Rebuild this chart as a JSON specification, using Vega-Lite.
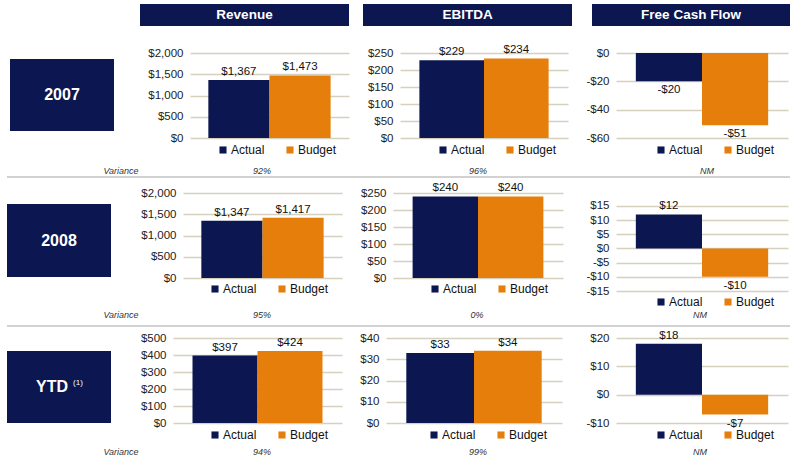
{
  "$schema": "https://vega.github.io/schema/vega-lite/v6.json",
  "padding": {"left": 7, "top": 4, "right": 0, "bottom": 0},
  "datasets": {
    "fin": [
      {"period": "2007", "metric": "Revenue", "series": "Actual", "value": 1367, "label": "$1,367"},
      {"period": "2007", "metric": "Revenue", "series": "Budget", "value": 1473, "label": "$1,473"},
      {"period": "2007", "metric": "EBITDA", "series": "Actual", "value": 229, "label": "$229"},
      {"period": "2007", "metric": "EBITDA", "series": "Budget", "value": 234, "label": "$234"},
      {"period": "2007", "metric": "FCF", "series": "Actual", "value": -20, "label": "-$20"},
      {"period": "2007", "metric": "FCF", "series": "Budget", "value": -51, "label": "-$51"},
      {"period": "2008", "metric": "Revenue", "series": "Actual", "value": 1347, "label": "$1,347"},
      {"period": "2008", "metric": "Revenue", "series": "Budget", "value": 1417, "label": "$1,417"},
      {"period": "2008", "metric": "EBITDA", "series": "Actual", "value": 240, "label": "$240"},
      {"period": "2008", "metric": "EBITDA", "series": "Budget", "value": 240, "label": "$240"},
      {"period": "2008", "metric": "FCF", "series": "Actual", "value": 12, "label": "$12"},
      {"period": "2008", "metric": "FCF", "series": "Budget", "value": -10, "label": "-$10"},
      {"period": "YTD", "metric": "Revenue", "series": "Actual", "value": 397, "label": "$397"},
      {"period": "YTD", "metric": "Revenue", "series": "Budget", "value": 424, "label": "$424"},
      {"period": "YTD", "metric": "EBITDA", "series": "Actual", "value": 33, "label": "$33"},
      {"period": "YTD", "metric": "EBITDA", "series": "Budget", "value": 34, "label": "$34"},
      {"period": "YTD", "metric": "FCF", "series": "Actual", "value": 18, "label": "$18"},
      {"period": "YTD", "metric": "FCF", "series": "Budget", "value": -7, "label": "-$7"}
    ]
  },
  "spacing": 0,
  "resolve": {
    "scale": {"x": "independent", "y": "independent", "color": "independent"},
    "axis": {"x": "independent", "y": "independent"},
    "legend": {"color": "independent"}
  },
  "vconcat": [
    {
      "spacing": 0,
      "hconcat": [
        {"width": 133, "height": 1, "data": {"values": []}, "mark": "point"},
        {"width": 209, "height": 22, "view": {"fill": "#0c1650"}, "data": {"values": [{"t": "Revenue"}]}, "mark": {"type": "text", "color": "white", "fontWeight": "bold", "fontSize": 13.5}, "encoding": {"text": {"field": "t"}}},
        {"width": 14, "height": 1, "data": {"values": []}, "mark": "point"},
        {"width": 209, "height": 22, "view": {"fill": "#0c1650"}, "data": {"values": [{"t": "EBITDA"}]}, "mark": {"type": "text", "color": "white", "fontWeight": "bold", "fontSize": 13.5}, "encoding": {"text": {"field": "t"}}},
        {"width": 20, "height": 1, "data": {"values": []}, "mark": "point"},
        {"width": 198, "height": 22, "view": {"fill": "#0c1650"}, "data": {"values": [{"t": "Free Cash Flow"}]}, "mark": {"type": "text", "color": "white", "fontWeight": "bold", "fontSize": 13.5}, "encoding": {"text": {"field": "t"}}}
      ]
    },
    {"width": 1, "height": 17.4, "data": {"values": []}, "mark": "point"},
    {
      "spacing": 0,
      "resolve": {"scale": {"x": "independent", "y": "independent", "color": "independent"}, "axis": {"x": "independent", "y": "independent"}, "legend": {"color": "independent"}},
      "hconcat": [
        {"width": 3, "height": 1, "data": {"values": []}, "mark": "point"},
        {
          "spacing": 0,
          "vconcat": [
            {"width": 104, "height": 6, "data": {"values": []}, "mark": "point"},
            {"width": 104, "height": 72, "view": {"fill": "#0c1650"}, "data": {"values": [{"t": "2007"}]}, "mark": {"type": "text", "color": "white", "fontWeight": "bold", "fontSize": 16}, "encoding": {"text": {"field": "t"}}},
            {"width": 1, "height": 34, "data": {"values": []}, "mark": "point"}
          ]
        },
        {"width": 30, "height": 1, "data": {"values": []}, "mark": "point"},
        {
          "width": 159, "height": 85,
          "data": {"name": "fin"},
          "transform": [{"filter": "datum.period == '2007' && datum.metric == 'Revenue'"}],
          "encoding": {
            "x": {"field": "series", "type": "nominal", "sort": ["Actual", "Budget"], "axis": null, "scale": {"paddingInner": 0, "paddingOuter": 0.3}},
            "y": {"field": "value", "type": "quantitative", "scale": {"domain": [0, 2000], "nice": false, "zero": false}, "axis": {"title": null, "minExtent": 46, "values": [0, 500, 1000, 1500, 2000], "labelOverlap": false, "labelExpr": "(datum.value < 0 ? '-$' : '$') + format(abs(datum.value), ',')"}}
          },
          "layer": [
            {"mark": {"type": "bar"}, "encoding": {"y2": {"datum": 0}, "color": {"field": "series", "type": "nominal", "scale": {"domain": ["Actual", "Budget"], "range": ["#0c1650", "#e67e0b"]}, "legend": {"title": null, "orient": "none", "direction": "horizontal", "legendX": 27, "legendY": 91}}}},
            {"transform": [{"filter": "datum.value >= 0"}], "mark": {"type": "text", "baseline": "alphabetic", "dy": -5}, "encoding": {"text": {"field": "label"}}},
            {"transform": [{"filter": "datum.value < 0"}], "mark": {"type": "text", "baseline": "top", "dy": 3}, "encoding": {"text": {"field": "label"}}}
          ]
        },
        {"width": 14.25, "height": 1, "data": {"values": []}, "mark": "point"},
        {
          "width": 168, "height": 85,
          "data": {"name": "fin"},
          "transform": [{"filter": "datum.period == '2007' && datum.metric == 'EBITDA'"}],
          "encoding": {
            "x": {"field": "series", "type": "nominal", "sort": ["Actual", "Budget"], "axis": null, "scale": {"paddingInner": 0, "paddingOuter": 0.3}},
            "y": {"field": "value", "type": "quantitative", "scale": {"domain": [0, 250], "nice": false, "zero": false}, "axis": {"title": null, "minExtent": 36, "values": [0, 50, 100, 150, 200, 250], "labelOverlap": false, "labelExpr": "(datum.value < 0 ? '-$' : '$') + format(abs(datum.value), ',')"}}
          },
          "layer": [
            {"mark": {"type": "bar"}, "encoding": {"y2": {"datum": 0}, "color": {"field": "series", "type": "nominal", "scale": {"domain": ["Actual", "Budget"], "range": ["#0c1650", "#e67e0b"]}, "legend": {"title": null, "orient": "none", "direction": "horizontal", "legendX": 37, "legendY": 91}}}},
            {"transform": [{"filter": "datum.value >= 0"}], "mark": {"type": "text", "baseline": "alphabetic", "dy": -5}, "encoding": {"text": {"field": "label"}}},
            {"transform": [{"filter": "datum.value < 0"}], "mark": {"type": "text", "baseline": "top", "dy": 3}, "encoding": {"text": {"field": "label"}}}
          ]
        },
        {"width": 13.25, "height": 1, "data": {"values": []}, "mark": "point"},
        {
          "width": 172, "height": 85,
          "data": {"name": "fin"},
          "transform": [{"filter": "datum.period == '2007' && datum.metric == 'FCF'"}],
          "encoding": {
            "x": {"field": "series", "type": "nominal", "sort": ["Actual", "Budget"], "axis": null, "scale": {"paddingInner": 0, "paddingOuter": 0.3}},
            "y": {"field": "value", "type": "quantitative", "scale": {"domain": [-60, 0], "nice": false, "zero": false}, "axis": {"title": null, "minExtent": 34, "values": [-60, -40, -20, 0], "labelOverlap": false, "labelExpr": "(datum.value < 0 ? '-$' : '$') + format(abs(datum.value), ',')"}}
          },
          "layer": [
            {"mark": {"type": "bar"}, "encoding": {"y2": {"datum": 0}, "color": {"field": "series", "type": "nominal", "scale": {"domain": ["Actual", "Budget"], "range": ["#0c1650", "#e67e0b"]}, "legend": {"title": null, "orient": "none", "direction": "horizontal", "legendX": 39, "legendY": 91}}}},
            {"transform": [{"filter": "datum.value >= 0"}], "mark": {"type": "text", "baseline": "alphabetic", "dy": -5}, "encoding": {"text": {"field": "label"}}},
            {"transform": [{"filter": "datum.value < 0"}], "mark": {"type": "text", "baseline": "top", "dy": 3}, "encoding": {"text": {"field": "label"}}}
          ]
        }
      ]
    },
    {
      "spacing": 0,
      "hconcat": [
        {"width": 228, "height": 11, "data": {"values": [{"t": "Variance"}]}, "mark": {"type": "text", "fontStyle": "italic", "fontSize": 9, "color": "#333"}, "encoding": {"text": {"field": "t"}}},
        {"width": 54, "height": 11, "data": {"values": [{"t": "92%"}]}, "mark": {"type": "text", "fontStyle": "italic", "fontSize": 9, "color": "#333"}, "encoding": {"text": {"field": "t"}}},
        {"width": 378, "height": 11, "data": {"values": [{"t": "96%"}]}, "mark": {"type": "text", "fontStyle": "italic", "fontSize": 9, "color": "#333"}, "encoding": {"text": {"field": "t"}}},
        {"width": 80, "height": 11, "data": {"values": [{"t": "NM"}]}, "mark": {"type": "text", "fontStyle": "italic", "fontSize": 9, "color": "#333"}, "encoding": {"text": {"field": "t"}}}
      ]
    },
    {"width": 783, "height": 2, "view": {"fill": "#d2d2d2"}, "data": {"values": []}, "mark": "point"},
    {"width": 1, "height": 3.4, "data": {"values": []}, "mark": "point"},
    {
      "spacing": 0,
      "resolve": {"scale": {"x": "independent", "y": "independent", "color": "independent"}, "axis": {"x": "independent", "y": "independent"}, "legend": {"color": "independent"}},
      "hconcat": [
        {
          "spacing": 0,
          "vconcat": [
            {"width": 104, "height": 11, "data": {"values": []}, "mark": "point"},
            {"width": 104, "height": 73, "view": {"fill": "#0c1650"}, "data": {"values": [{"t": "2008"}]}, "mark": {"type": "text", "color": "white", "fontWeight": "bold", "fontSize": 16}, "encoding": {"text": {"field": "t"}}},
            {"width": 1, "height": 34, "data": {"values": []}, "mark": "point"}
          ]
        },
        {"width": 26, "height": 1, "data": {"values": []}, "mark": "point"},
        {
          "width": 159, "height": 85,
          "data": {"name": "fin"},
          "transform": [{"filter": "datum.period == '2008' && datum.metric == 'Revenue'"}],
          "encoding": {
            "x": {"field": "series", "type": "nominal", "sort": ["Actual", "Budget"], "axis": null, "scale": {"paddingInner": 0, "paddingOuter": 0.3}},
            "y": {"field": "value", "type": "quantitative", "scale": {"domain": [0, 2000], "nice": false, "zero": false}, "axis": {"title": null, "minExtent": 46, "values": [0, 500, 1000, 1500, 2000], "labelOverlap": false, "labelExpr": "(datum.value < 0 ? '-$' : '$') + format(abs(datum.value), ',')"}}
          },
          "layer": [
            {"mark": {"type": "bar"}, "encoding": {"y2": {"datum": 0}, "color": {"field": "series", "type": "nominal", "scale": {"domain": ["Actual", "Budget"], "range": ["#0c1650", "#e67e0b"]}, "legend": {"title": null, "orient": "none", "direction": "horizontal", "legendX": 26, "legendY": 90}}}},
            {"transform": [{"filter": "datum.value >= 0"}], "mark": {"type": "text", "baseline": "alphabetic", "dy": -5}, "encoding": {"text": {"field": "label"}}},
            {"transform": [{"filter": "datum.value < 0"}], "mark": {"type": "text", "baseline": "top", "dy": 3}, "encoding": {"text": {"field": "label"}}}
          ]
        },
        {"width": 14.25, "height": 1, "data": {"values": []}, "mark": "point"},
        {
          "width": 170, "height": 85,
          "data": {"name": "fin"},
          "transform": [{"filter": "datum.period == '2008' && datum.metric == 'EBITDA'"}],
          "encoding": {
            "x": {"field": "series", "type": "nominal", "sort": ["Actual", "Budget"], "axis": null, "scale": {"paddingInner": 0, "paddingOuter": 0.3}},
            "y": {"field": "value", "type": "quantitative", "scale": {"domain": [0, 250], "nice": false, "zero": false}, "axis": {"title": null, "minExtent": 36, "values": [0, 50, 100, 150, 200, 250], "labelOverlap": false, "labelExpr": "(datum.value < 0 ? '-$' : '$') + format(abs(datum.value), ',')"}}
          },
          "layer": [
            {"mark": {"type": "bar"}, "encoding": {"y2": {"datum": 0}, "color": {"field": "series", "type": "nominal", "scale": {"domain": ["Actual", "Budget"], "range": ["#0c1650", "#e67e0b"]}, "legend": {"title": null, "orient": "none", "direction": "horizontal", "legendX": 36, "legendY": 90}}}},
            {"transform": [{"filter": "datum.value >= 0"}], "mark": {"type": "text", "baseline": "alphabetic", "dy": -5}, "encoding": {"text": {"field": "label"}}},
            {"transform": [{"filter": "datum.value < 0"}], "mark": {"type": "text", "baseline": "top", "dy": 3}, "encoding": {"text": {"field": "label"}}}
          ]
        },
        {"width": 18.25, "height": 1, "data": {"values": []}, "mark": "point"},
        {
          "width": 172, "height": 98,
          "data": {"name": "fin"},
          "transform": [{"filter": "datum.period == '2008' && datum.metric == 'FCF'"}],
          "encoding": {
            "x": {"field": "series", "type": "nominal", "sort": ["Actual", "Budget"], "axis": null, "scale": {"paddingInner": 0, "paddingOuter": 0.3}},
            "y": {"field": "value", "type": "quantitative", "scale": {"domain": [-15, 19.588], "nice": false, "zero": false}, "axis": {"title": null, "minExtent": 34, "values": [-15, -10, -5, 0, 5, 10, 15], "labelOverlap": false, "labelExpr": "(datum.value < 0 ? '-$' : '$') + format(abs(datum.value), ',')"}}
          },
          "layer": [
            {"mark": {"type": "bar"}, "encoding": {"y2": {"datum": 0}, "color": {"field": "series", "type": "nominal", "scale": {"domain": ["Actual", "Budget"], "range": ["#0c1650", "#e67e0b"]}, "legend": {"title": null, "orient": "none", "direction": "horizontal", "legendX": 39, "legendY": 103}}}},
            {"transform": [{"filter": "datum.value >= 0"}], "mark": {"type": "text", "baseline": "alphabetic", "dy": -5}, "encoding": {"text": {"field": "label"}}},
            {"transform": [{"filter": "datum.value < 0"}], "mark": {"type": "text", "baseline": "top", "dy": 3}, "encoding": {"text": {"field": "label"}}}
          ]
        }
      ]
    },
    {
      "spacing": 0,
      "hconcat": [
        {"width": 228, "height": 8, "data": {"values": [{"t": "Variance"}]}, "mark": {"type": "text", "fontStyle": "italic", "fontSize": 9, "color": "#333"}, "encoding": {"text": {"field": "t"}}},
        {"width": 54, "height": 8, "data": {"values": [{"t": "95%"}]}, "mark": {"type": "text", "fontStyle": "italic", "fontSize": 9, "color": "#333"}, "encoding": {"text": {"field": "t"}}},
        {"width": 376, "height": 8, "data": {"values": [{"t": "0%"}]}, "mark": {"type": "text", "fontStyle": "italic", "fontSize": 9, "color": "#333"}, "encoding": {"text": {"field": "t"}}},
        {"width": 70, "height": 8, "data": {"values": [{"t": "NM"}]}, "mark": {"type": "text", "fontStyle": "italic", "fontSize": 9, "color": "#333"}, "encoding": {"text": {"field": "t"}}}
      ]
    },
    {"width": 1, "height": 5, "data": {"values": []}, "mark": "point"},
    {"width": 783, "height": 2, "view": {"fill": "#d2d2d2"}, "data": {"values": []}, "mark": "point"},
    {"width": 1, "height": 1.67, "data": {"values": []}, "mark": "point"},
    {
      "spacing": 0,
      "resolve": {"scale": {"x": "independent", "y": "independent", "color": "independent"}, "axis": {"x": "independent", "y": "independent"}, "legend": {"color": "independent"}},
      "hconcat": [
        {
          "spacing": 0,
          "vconcat": [
            {"width": 104, "height": 13, "data": {"values": []}, "mark": "point"},
            {
              "width": 104, "height": 72, "view": {"fill": "#0c1650"},
              "layer": [
                {"data": {"values": [{"t": "YTD"}]}, "mark": {"type": "text", "color": "white", "fontWeight": "bold", "fontSize": 16, "dx": -7}, "encoding": {"text": {"field": "t"}}},
                {"data": {"values": [{"t": "(1)"}]}, "mark": {"type": "text", "color": "white", "fontSize": 8, "dx": 19, "dy": -4}, "encoding": {"text": {"field": "t"}}}
              ]
            },
            {"width": 1, "height": 24, "data": {"values": []}, "mark": "point"}
          ]
        },
        {"width": 26, "height": 1, "data": {"values": []}, "mark": "point"},
        {
          "width": 169, "height": 85,
          "data": {"name": "fin"},
          "transform": [{"filter": "datum.period == 'YTD' && datum.metric == 'Revenue'"}],
          "encoding": {
            "x": {"field": "series", "type": "nominal", "sort": ["Actual", "Budget"], "axis": null, "scale": {"paddingInner": 0, "paddingOuter": 0.3}},
            "y": {"field": "value", "type": "quantitative", "scale": {"domain": [0, 500], "nice": false, "zero": false}, "axis": {"title": null, "minExtent": 36, "values": [0, 100, 200, 300, 400, 500], "labelOverlap": false, "labelExpr": "(datum.value < 0 ? '-$' : '$') + format(abs(datum.value), ',')"}}
          },
          "layer": [
            {"mark": {"type": "bar"}, "encoding": {"y2": {"datum": 0}, "color": {"field": "series", "type": "nominal", "scale": {"domain": ["Actual", "Budget"], "range": ["#0c1650", "#e67e0b"]}, "legend": {"title": null, "orient": "none", "direction": "horizontal", "legendX": 36, "legendY": 91}}}},
            {"transform": [{"filter": "datum.value >= 0"}], "mark": {"type": "text", "baseline": "alphabetic", "dy": -5}, "encoding": {"text": {"field": "label"}}},
            {"transform": [{"filter": "datum.value < 0"}], "mark": {"type": "text", "baseline": "top", "dy": 3}, "encoding": {"text": {"field": "label"}}}
          ]
        },
        {"width": 13.25, "height": 1, "data": {"values": []}, "mark": "point"},
        {
          "width": 176, "height": 85,
          "data": {"name": "fin"},
          "transform": [{"filter": "datum.period == 'YTD' && datum.metric == 'EBITDA'"}],
          "encoding": {
            "x": {"field": "series", "type": "nominal", "sort": ["Actual", "Budget"], "axis": null, "scale": {"paddingInner": 0, "paddingOuter": 0.3}},
            "y": {"field": "value", "type": "quantitative", "scale": {"domain": [0, 40], "nice": false, "zero": false}, "axis": {"title": null, "minExtent": 30, "values": [0, 10, 20, 30, 40], "labelOverlap": false, "labelExpr": "(datum.value < 0 ? '-$' : '$') + format(abs(datum.value), ',')"}}
          },
          "layer": [
            {"mark": {"type": "bar"}, "encoding": {"y2": {"datum": 0}, "color": {"field": "series", "type": "nominal", "scale": {"domain": ["Actual", "Budget"], "range": ["#0c1650", "#e67e0b"]}, "legend": {"title": null, "orient": "none", "direction": "horizontal", "legendX": 42, "legendY": 91}}}},
            {"transform": [{"filter": "datum.value >= 0"}], "mark": {"type": "text", "baseline": "alphabetic", "dy": -5}, "encoding": {"text": {"field": "label"}}},
            {"transform": [{"filter": "datum.value < 0"}], "mark": {"type": "text", "baseline": "top", "dy": 3}, "encoding": {"text": {"field": "label"}}}
          ]
        },
        {"width": 19.25, "height": 1, "data": {"values": []}, "mark": "point"},
        {
          "width": 172, "height": 85,
          "data": {"name": "fin"},
          "transform": [{"filter": "datum.period == 'YTD' && datum.metric == 'FCF'"}],
          "encoding": {
            "x": {"field": "series", "type": "nominal", "sort": ["Actual", "Budget"], "axis": null, "scale": {"paddingInner": 0, "paddingOuter": 0.3}},
            "y": {"field": "value", "type": "quantitative", "scale": {"domain": [-10, 20], "nice": false, "zero": false}, "axis": {"title": null, "minExtent": 34, "values": [-10, 0, 10, 20], "labelOverlap": false, "labelExpr": "(datum.value < 0 ? '-$' : '$') + format(abs(datum.value), ',')"}}
          },
          "layer": [
            {"mark": {"type": "bar"}, "encoding": {"y2": {"datum": 0}, "color": {"field": "series", "type": "nominal", "scale": {"domain": ["Actual", "Budget"], "range": ["#0c1650", "#e67e0b"]}, "legend": {"title": null, "orient": "none", "direction": "horizontal", "legendX": 39, "legendY": 91}}}},
            {"transform": [{"filter": "datum.value >= 0"}], "mark": {"type": "text", "baseline": "alphabetic", "dy": -5}, "encoding": {"text": {"field": "label"}}},
            {"transform": [{"filter": "datum.value < 0"}], "mark": {"type": "text", "baseline": "top", "dy": 3}, "encoding": {"text": {"field": "label"}}}
          ]
        }
      ]
    },
    {
      "spacing": 0,
      "hconcat": [
        {"width": 228, "height": 10, "data": {"values": [{"t": "Variance"}]}, "mark": {"type": "text", "fontStyle": "italic", "fontSize": 9, "color": "#333"}, "encoding": {"text": {"field": "t"}}},
        {"width": 54, "height": 10, "data": {"values": [{"t": "94%"}]}, "mark": {"type": "text", "fontStyle": "italic", "fontSize": 9, "color": "#333"}, "encoding": {"text": {"field": "t"}}},
        {"width": 378, "height": 10, "data": {"values": [{"t": "99%"}]}, "mark": {"type": "text", "fontStyle": "italic", "fontSize": 9, "color": "#333"}, "encoding": {"text": {"field": "t"}}},
        {"width": 66, "height": 10, "data": {"values": [{"t": "NM"}]}, "mark": {"type": "text", "fontStyle": "italic", "fontSize": 9, "color": "#333"}, "encoding": {"text": {"field": "t"}}}
      ]
    }
  ],
  "config": {
    "view": {"stroke": null},
    "font": "Liberation Sans",
    "axisY": {"domain": false, "ticks": false, "grid": true, "gridColor": "#d6d0be", "gridWidth": 1.5, "labelPadding": 7, "labelFontSize": 11.5, "labelColor": "#222", "labelFont": "Liberation Sans"},
    "legend": {"symbolType": "square", "symbolSize": 50, "symbolStrokeWidth": 0, "labelFontSize": 12, "labelFont": "Liberation Sans", "labelColor": "#111", "labelOffset": 2, "columnPadding": 19, "padding": 0},
    "text": {"font": "Liberation Sans", "fontSize": 11.5, "color": "#111"}
  }
}
